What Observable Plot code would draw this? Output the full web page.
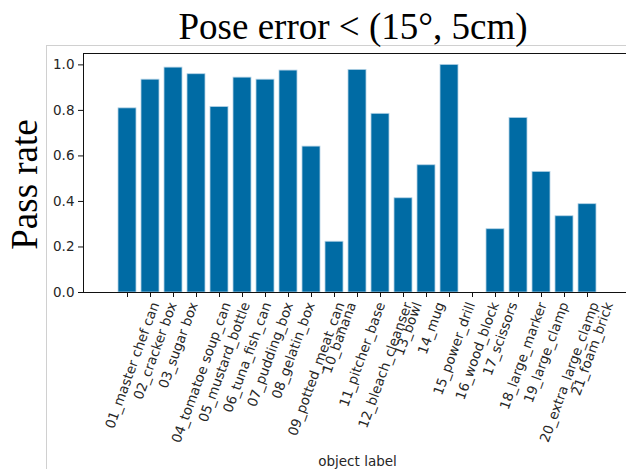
<!DOCTYPE html>
<html><head><meta charset="utf-8">
<script src="https://cdn.jsdelivr.net/npm/d3@7"></script>
<script src="https://cdn.jsdelivr.net/npm/@observablehq/plot@0.6"></script>
<style>
html,body{margin:0;padding:0;background:#fff;overflow:hidden;}
#wrap{position:relative;width:626px;height:469px;overflow:hidden;}
#border{position:absolute;left:46px;top:45px;width:700px;height:600px;border-left:1px solid #d0d0d0;border-top:1px solid #d0d0d0;}
#chart{position:absolute;left:0;top:0;}
</style></head><body><div id="wrap"><div id="border"></div><div id="chart"></div></div>
<script>
const labels = [
  "01_master chef can", "02_cracker box", "03_sugar box", "04_tomatoe soup_can",
  "05_mustard_bottle", "06_tuna_fish_can", "07_pudding_box", "08_gelatin_box",
  "09_potted_meat_can", "10_banana", "11_pitcher_base", "12_bleach_cleanser",
  "13_bowl", "14_mug", "15_power_drill", "16_wood_block", "17_scissors",
  "18_large_marker", "19_large_clamp", "20_extra_large_clamp", "21_foam_brick"
];
const passRate = [
  0.809, 0.935, 0.988, 0.959, 0.815, 0.944, 0.935, 0.975, 0.641, 0.223,
  0.978, 0.785, 0.414, 0.559, 1.0, 0.0, 0.278, 0.767, 0.530, 0.335, 0.388
];
const yTicks = [0.0, 0.2, 0.4, 0.6, 0.8, 1.0];
const title = "Pose error < (15°, 5cm)";
const yLabel = "Pass rate";
const xLabel = "object label";

const data = labels.map((label, i) => ({label, rate: passRate[i]}));

const chart = Plot.plot({
  width: 626, height: 469,
  marginLeft: 83, marginTop: 53, marginBottom: 177, marginRight: 0,
  style: {fontFamily: "DejaVu Sans", fontSize: "13.5px", color: "#262626", background: "transparent"},
  x: {domain: labels, range: [83, 632], padding: 0.2, paddingOuter: 1.04, align: 0.5},
  y: {domain: [0, 1.05], range: [292, 53]},
  marks: [
    Plot.barY(data, {x: "label", y: "rate", fill: "#006ba4", stroke: "#b5d3e6", strokeWidth: 0.8}),
    Plot.frame({anchor: "left", stroke: "#111"}),
    Plot.frame({anchor: "top", stroke: "#111"}),
    Plot.frame({anchor: "bottom", stroke: "#111"}),
    Plot.axisY({ticks: yTicks, tickFormat: d3.format(".1f"), tickSize: 5, tickPadding: 4, label: null, stroke: "#111", fill: "#262626"}),
    Plot.axisX({tickSize: 5, tickFormat: () => "", label: null, stroke: "#111"}),
    Plot.text(data, {x: "label", frameAnchor: "bottom", text: "label", rotate: -70,
      textAnchor: "middle", lineAnchor: "middle", fill: "#262626", fontSize: 13.5}),
    Plot.text([title], {frameAnchor: "top", dx: -2, dy: -15, lineAnchor: "bottom", textAnchor: "middle",
      fontFamily: "Liberation Serif", fontSize: 37, fill: "#000"}),
    Plot.text([yLabel], {frameAnchor: "left", rotate: -90, dx: -47, dy: 11.5, lineAnchor: "bottom", textAnchor: "middle",
      fontFamily: "Liberation Serif", fontSize: 37, fill: "#000"}),
    Plot.text([xLabel], {frameAnchor: "bottom", dx: 2.5, dy: 173, lineAnchor: "bottom", textAnchor: "middle",
      fontSize: 13.5, fill: "#262626"})
  ]
});
document.getElementById("chart").appendChild(chart);

// place rotated tick labels so their bounding box is centred under each tick (matplotlib style)
const xs = chart.scale("x");
const y0 = chart.scale("y").apply(0);
const sin = Math.sin(70 * Math.PI / 180), cos = Math.cos(70 * Math.PI / 180);
const labelSet = new Set(labels);
d3.select(chart).selectAll("text").filter(function() {
  return labelSet.has(this.textContent) && this.closest('g[aria-label="text"]');
}).each(function() {
  const name = this.textContent;
  const L = this.getComputedTextLength();
  const cx = xs.apply(name) + xs.bandwidth / 2;
  const cy = y0 + 9 + (L * sin + 15.8 * cos) / 2;
  this.setAttribute("transform", `translate(${cx},${cy}) rotate(-70)`);
  this.removeAttribute("x");
  this.removeAttribute("y");
});
</script>
</body></html>
